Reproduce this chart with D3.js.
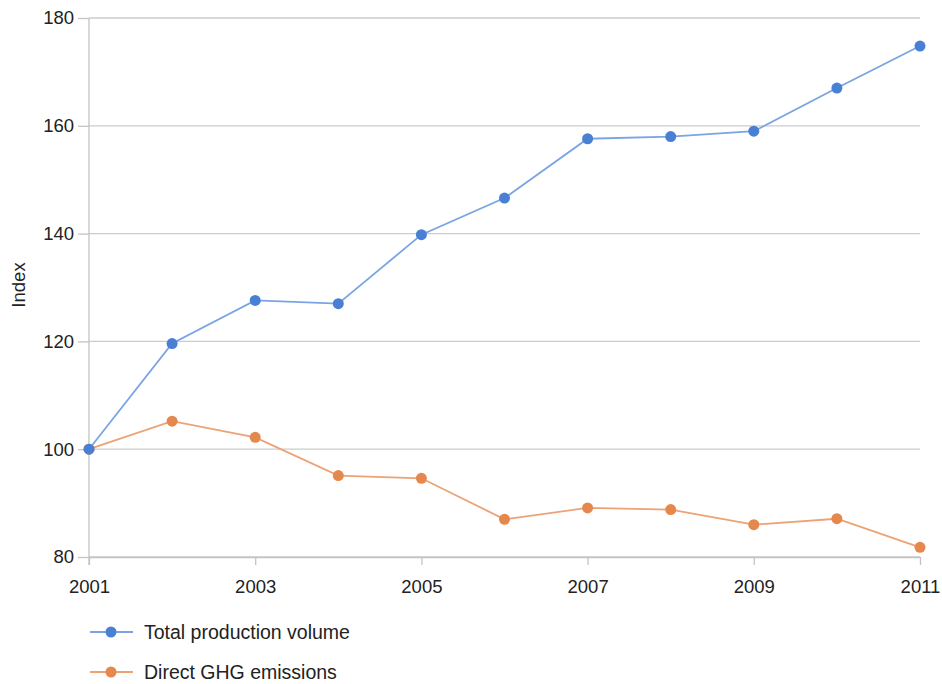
<!DOCTYPE html>
<html>
<head>
<meta charset="utf-8">
<script src="https://cdn.jsdelivr.net/npm/d3@7"></script>
<style>
  body { margin: 0; background: #fff; }
  text { font-family: "Liberation Sans", Arial, sans-serif; fill: #222; }
</style>
</head>
<body>
<script>
const [W, H] = [942, 684];
const PADDING = { left: 89, top: 18, right: 22, bottom: 127 };
const FONT = '18.5px';

const YEARS = [2001, 2002, 2003, 2004, 2005, 2006, 2007, 2008, 2009, 2010, 2011];
const PRODUCTION = [100, 119.6, 127.6, 127.0, 139.8, 146.6, 157.6, 158.0, 159.0, 167.0, 174.8];
const EMISSIONS = [100, 105.2, 102.2, 95.1, 94.6, 87.0, 89.1, 88.8, 86.0, 87.1, 81.8];
const Y_TICKS = [80, 100, 120, 140, 160, 180];
const X_TICKS = [2001, 2003, 2005, 2007, 2009, 2011];
const SERIES_NAMES = ['Total production volume', 'Direct GHG emissions'];

const COLORS = { dot: ['#4a80d4', '#e5884e'], line: ['#7aa4e4', '#eca274'] };

const svg = d3.select('body').append('svg').attr('width', W).attr('height', H);

const xScale = d3.scaleLinear()
    .domain([2001, 2011])
    .range([PADDING.left, W - PADDING.right]);

const yScale = d3.scaleLinear()
    .domain([80, 180])
    .range([H - PADDING.bottom, PADDING.top]);

// gridlines
svg.append('g')
    .selectAll('line')
    .data(Y_TICKS)
    .enter()
    .append('line')
    .attr('x1', PADDING.left)
    .attr('x2', W - PADDING.right)
    .attr('y1', d => yScale(d))
    .attr('y2', d => yScale(d))
    .attr('stroke', '#cccccc')
    .attr('stroke-width', 1.3);

// axes
const xAxis = d3.axisBottom(xScale)
    .tickValues(X_TICKS)
    .tickSize(8)
    .tickSizeOuter(0)
    .tickPadding(15)
    .tickFormat(d => '' + d);

const yAxis = d3.axisLeft(yScale)
    .tickValues(Y_TICKS)
    .tickSize(11)
    .tickSizeOuter(0)
    .tickPadding(4);

const gx = svg.append('g')
    .attr('transform', 'translate(0,' + (H - PADDING.bottom) + ')')
    .call(xAxis);

const gy = svg.append('g')
    .attr('transform', 'translate(' + PADDING.left + ',0)')
    .call(yAxis);

[gx, gy].forEach(g => {
    g.select('.domain').attr('stroke', '#c4c4c4').attr('stroke-width', 1.3);
    g.selectAll('.tick line').attr('stroke', '#c4c4c4').attr('stroke-width', 1.3);
    g.selectAll('.tick text').style('font-size', FONT).style('font-family', '"Liberation Sans", Arial, sans-serif').attr('fill', '#222');
});
gy.select('.domain').attr('d', 'M0,' + PADDING.top + 'V' + (H - PADDING.bottom + 8));

// y label
svg.append('text')
    .attr('transform', 'translate(25,' + 285 + ') rotate(-90)')
    .style('text-anchor', 'middle')
    .style('font-size', FONT)
    .text('Index');

// lines and points
const line = d3.line()
    .x((d, i) => xScale(YEARS[i]))
    .y(d => yScale(d));

[EMISSIONS, PRODUCTION].forEach((values, k) => {
    const idx = k === 0 ? 1 : 0;
    svg.append('path')
        .datum(values)
        .attr('d', line)
        .attr('fill', 'none')
        .attr('stroke', COLORS.line[idx])
        .attr('stroke-width', 1.8);

    svg.append('g')
        .selectAll('circle')
        .data(values)
        .enter()
        .append('circle')
        .attr('cx', (d, i) => xScale(YEARS[i]))
        .attr('cy', d => yScale(d))
        .attr('r', 5.5)
        .attr('fill', COLORS.dot[idx]);
});

// legend
const legend = svg.append('g')
    .selectAll('g')
    .data(SERIES_NAMES)
    .enter()
    .append('g')
    .attr('transform', (d, i) => 'translate(90,' + (632 + i * 40) + ')');

legend.append('line')
    .attr('x1', 0).attr('x2', 43)
    .attr('stroke', (d, i) => COLORS.line[i])
    .attr('stroke-width', 1.8);

legend.append('circle')
    .attr('cx', 21).attr('r', 5.5)
    .attr('fill', (d, i) => COLORS.dot[i]);

legend.append('text')
    .attr('x', 54)
    .attr('dy', '0.35em')
    .style('font-size', '19.5px')
    .text(d => d);
</script>
</body>
</html>
